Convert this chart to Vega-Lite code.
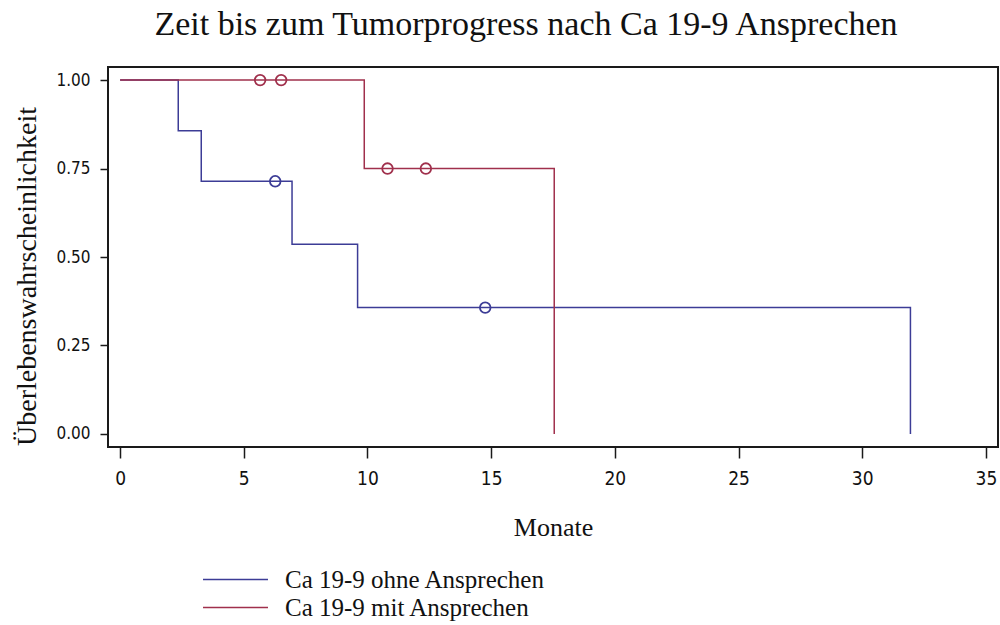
{
  "$schema": "https://vega.github.io/schema/vega-lite/v6.json",
  "autosize": {"type": "none"},
  "width": 890,
  "height": 380,
  "padding": {"left": 108, "top": 67, "right": 2, "bottom": 178},
  "background": "white",
  "config": {
    "view": {"stroke": "#1a1a1a", "strokeWidth": 2},
    "axis": {"grid": false, "domain": false}
  },
  "title": {
    "text": "Zeit bis zum Tumorprogress nach Ca 19-9 Ansprechen",
    "font": "Liberation Serif",
    "fontSize": 34,
    "fontWeight": "normal",
    "color": "#111111",
    "anchor": "middle",
    "frame": "group",
    "baseline": "alphabetic",
    "offset": -2,
    "dx": -27
  },
  "datasets": {
    "curves": [
      {"group": "Ca 19-9 ohne Ansprechen", "t": 0, "s": 1},
      {"group": "Ca 19-9 ohne Ansprechen", "t": 2.35, "s": 0.857},
      {"group": "Ca 19-9 ohne Ansprechen", "t": 3.28, "s": 0.714},
      {"group": "Ca 19-9 ohne Ansprechen", "t": 6.95, "s": 0.536},
      {"group": "Ca 19-9 ohne Ansprechen", "t": 9.6, "s": 0.357},
      {"group": "Ca 19-9 ohne Ansprechen", "t": 31.95, "s": 0},
      {"group": "Ca 19-9 mit Ansprechen", "t": 0, "s": 1},
      {"group": "Ca 19-9 mit Ansprechen", "t": 9.87, "s": 0.75},
      {"group": "Ca 19-9 mit Ansprechen", "t": 17.55, "s": 0}
    ],
    "censored": [
      {"group": "Ca 19-9 ohne Ansprechen", "t": 6.27, "s": 0.714},
      {"group": "Ca 19-9 ohne Ansprechen", "t": 14.76, "s": 0.357},
      {"group": "Ca 19-9 mit Ansprechen", "t": 5.66, "s": 1},
      {"group": "Ca 19-9 mit Ansprechen", "t": 6.51, "s": 1},
      {"group": "Ca 19-9 mit Ansprechen", "t": 10.81, "s": 0.75},
      {"group": "Ca 19-9 mit Ansprechen", "t": 12.36, "s": 0.75}
    ]
  },
  "layer": [
    {
      "data": {"name": "curves"},
      "mark": {"type": "line", "interpolate": "step-after", "strokeWidth": 1.5},
      "encoding": {
        "x": {
          "field": "t",
          "type": "quantitative",
          "scale": {"domain": [-0.49, 35.49], "nice": false, "zero": false},
          "axis": {
            "values": [0, 5, 10, 15, 20, 25, 30, 35],
            "title": "Monate",
            "titleFont": "Liberation Serif",
            "titleFontSize": 26,
            "titleFontWeight": "normal",
            "titleColor": "#111111",
            "titleBaseline": "alphabetic",
            "titleY": 88,
            "labelFont": "DejaVu Sans Condensed, Liberation Sans",
            "labelFontSize": 19,
            "labelColor": "#111111",
            "labelPadding": 11,
            "tickSize": 11,
            "tickWidth": 1.5,
            "tickColor": "#1a1a1a"
          }
        },
        "y": {
          "field": "s",
          "type": "quantitative",
          "scale": {"domain": [-0.037, 1.037], "nice": false, "zero": false},
          "axis": {
            "values": [0, 0.25, 0.5, 0.75, 1],
            "format": ".2f",
            "title": "Überlebenswahrscheinlichkeit",
            "titleFont": "Liberation Serif",
            "titleFontSize": 28,
            "titleFontWeight": "normal",
            "titleColor": "#111111",
            "titleBaseline": "alphabetic",
            "titleAngle": -90,
            "titleAlign": "center",
            "titleX": -73,
            "titleY": 209,
            "labelFont": "DejaVu Sans Condensed, Liberation Sans",
            "labelFontSize": 17,
            "labelColor": "#111111",
            "labelPadding": 10,
            "tickSize": 8,
            "tickWidth": 1.5,
            "tickColor": "#1a1a1a"
          }
        },
        "color": {
          "field": "group",
          "type": "nominal",
          "scale": {
            "domain": ["Ca 19-9 ohne Ansprechen", "Ca 19-9 mit Ansprechen"],
            "range": ["#3c3c96", "#a0304c"]
          },
          "legend": {
            "orient": "none",
            "legendX": 115,
            "legendY": 500,
            "title": null,
            "padding": 0,
            "symbolType": "M-3,0H3",
            "symbolSize": 469,
            "symbolStrokeWidth": 1.5,
            "labelFont": "Liberation Serif",
            "labelFontSize": 25,
            "labelColor": "#111111",
            "labelOffset": 37,
            "labelLimit": 0,
            "rowPadding": 2
          }
        },
        "detail": {"field": "group"}
      }
    },
    {
      "data": {"name": "censored"},
      "mark": {"type": "point", "shape": "circle", "filled": false, "opacity": 1, "size": 113, "strokeWidth": 1.8},
      "encoding": {
        "x": {"field": "t", "type": "quantitative"},
        "y": {"field": "s", "type": "quantitative"},
        "stroke": {
          "field": "group",
          "type": "nominal",
          "scale": {
            "domain": ["Ca 19-9 ohne Ansprechen", "Ca 19-9 mit Ansprechen"],
            "range": ["#3c3c96", "#a0304c"]
          },
          "legend": null
        }
      }
    }
  ]
}
